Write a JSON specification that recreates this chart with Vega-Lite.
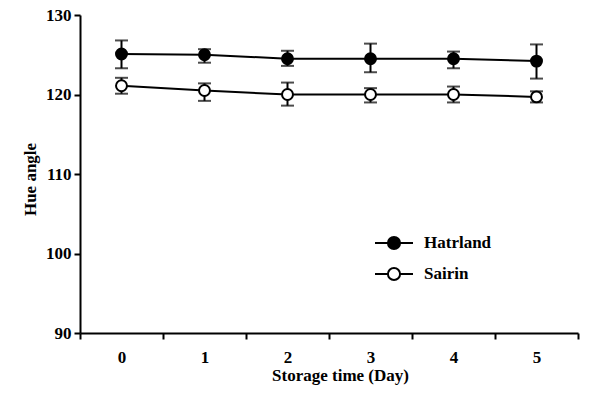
{
  "$schema": "https://vega.github.io/schema/vega-lite/v6.json",
  "width": 498,
  "height": 318,
  "autosize": "none",
  "padding": {"left": 80, "top": 15, "right": 21, "bottom": 60},
  "background": "white",
  "config": {
    "view": {"stroke": null},
    "font": "Times New Roman, Liberation Serif, serif",
    "axis": {
      "domainColor": "black", "domainWidth": 2, "tickColor": "black", "tickWidth": 2, "tickSize": 6,
      "labelColor": "black", "labelFont": "Times New Roman, Liberation Serif, serif", "labelFontSize": 17, "labelFontWeight": "bold",
      "titleColor": "black", "titleFont": "Times New Roman, Liberation Serif, serif", "titleFontSize": 17, "titleFontWeight": "bold",
      "grid": false
    },
    "legend": {"labelFont": "Times New Roman, Liberation Serif, serif", "labelFontSize": 17, "labelFontWeight": "bold", "labelColor": "black"}
  },
  "data": {"values": [
    {"day": 0, "variety": "Hatrland", "mean": 125.1, "lo": 123.3, "hi": 126.8},
    {"day": 1, "variety": "Hatrland", "mean": 125.0, "lo": 124.0, "hi": 125.7},
    {"day": 2, "variety": "Hatrland", "mean": 124.5, "lo": 123.6, "hi": 125.5},
    {"day": 3, "variety": "Hatrland", "mean": 124.5, "lo": 122.8, "hi": 126.4},
    {"day": 4, "variety": "Hatrland", "mean": 124.5, "lo": 123.3, "hi": 125.4},
    {"day": 5, "variety": "Hatrland", "mean": 124.2, "lo": 122.0, "hi": 126.3},
    {"day": 0, "variety": "Sairin", "mean": 121.1, "lo": 120.1, "hi": 122.1},
    {"day": 1, "variety": "Sairin", "mean": 120.5, "lo": 119.2, "hi": 121.4},
    {"day": 2, "variety": "Sairin", "mean": 120.0, "lo": 118.6, "hi": 121.5},
    {"day": 3, "variety": "Sairin", "mean": 120.0, "lo": 119.0, "hi": 120.8},
    {"day": 4, "variety": "Sairin", "mean": 120.0, "lo": 119.0, "hi": 121.0},
    {"day": 5, "variety": "Sairin", "mean": 119.7, "lo": 119.0, "hi": 120.4}
  ]},
  "encoding": {
    "x": {"field": "day", "type": "quantitative",
      "scale": {"domain": [-0.5, 5.5], "nice": false, "zero": false},
      "axis": {"values": [-0.5, 0, 0.5, 1, 1.5, 2, 2.5, 3, 3.5, 4, 4.5, 5, 5.5],
        "labelExpr": "datum.value % 1 === 0 ? format(datum.value, 'd') : ''",
        "tickOpacity": {"condition": {"test": "datum.value % 1 === 0", "value": 0}, "value": 1},
        "labelPadding": 10, "title": "Storage time (Day)", "titlePadding": 2, "titleX": 260}
    }
  },
  "layer": [
    {
      "mark": {"type": "line", "color": "black", "strokeWidth": 2},
      "encoding": {
        "y": {"field": "mean", "type": "quantitative",
          "scale": {"domain": [90, 130], "nice": false, "zero": false},
          "axis": {"values": [90, 100, 110, 120, 130], "title": "Hue angle", "titlePadding": 6, "labelPadding": 3, "titleY": 164}},
        "detail": {"field": "variety"}
      }
    },
    {
      "mark": {"type": "rule", "color": "black", "strokeWidth": 2},
      "encoding": {"y": {"field": "lo", "type": "quantitative"}, "y2": {"field": "hi"}}
    },
    {
      "mark": {"type": "tick", "orient": "horizontal", "color": "black", "thickness": 2, "size": 13},
      "encoding": {"y": {"field": "lo", "type": "quantitative"}}
    },
    {
      "mark": {"type": "tick", "orient": "horizontal", "color": "black", "thickness": 2, "size": 13},
      "encoding": {"y": {"field": "hi", "type": "quantitative"}}
    },
    {
      "mark": {"type": "point", "shape": "circle", "size": 120, "stroke": "black", "strokeWidth": 2, "opacity": 1, "filled": false},
      "encoding": {
        "y": {"field": "mean", "type": "quantitative"},
        "fill": {"field": "variety", "type": "nominal",
          "scale": {"domain": ["Hatrland", "Sairin"], "range": ["black", "white"]},
          "legend": {"title": null, "orient": "none", "legendX": 294, "legendY": 208,
            "symbolType": "M-1,0H-0.32M0.32,0H1M-0.32,0A0.32,0.32 0 1,1 0.32,0A0.32,0.32 0 1,1 -0.32,0",
            "symbolSize": 1444, "symbolStrokeColor": "black", "symbolStrokeWidth": 2, "symbolOpacity": 1,
            "labelFont": "Times New Roman, Liberation Serif, serif", "labelFontSize": 17, "labelFontWeight": "bold", "labelColor": "black", "labelOffset": 10,
            "rowPadding": -10}
        }
      }
    }
  ]
}
